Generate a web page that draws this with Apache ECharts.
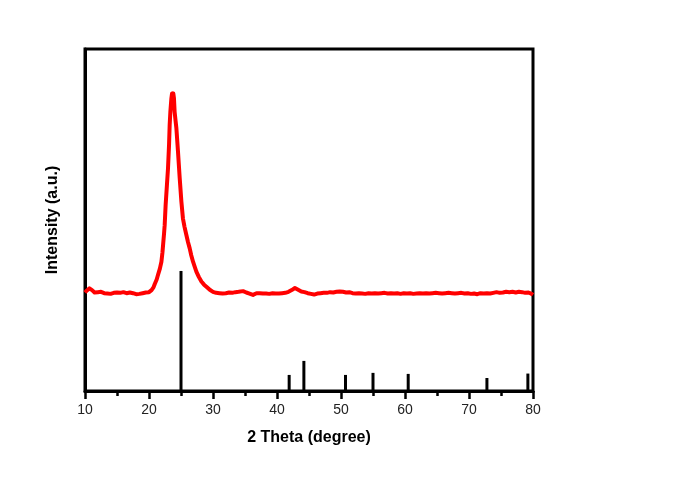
<!DOCTYPE html>
<html>
<head>
<meta charset="utf-8">
<script src="https://cdn.jsdelivr.net/npm/echarts@6/dist/echarts.min.js"></script>
<style>html,body{margin:0;padding:0;background:#fff;}#c{width:685px;height:492px;}</style>
</head>
<body>
<div id="c"></div>
<script>
var xTicks = [10, 20, 30, 40, 50, 60, 70, 80];
var theta = [10.0,10.3,10.7,11.1,11.5,12.0,12.5,13.0,13.5,14.0,14.5,15.0,15.5,16.0,16.5,17.0,17.5,18.0,18.5,19.0,19.5,20.0,20.4,20.7,20.9,21.2,21.4,21.7,21.94,22.1,22.2,22.35,22.45,22.6,22.8,22.97,23.13,23.23,23.34,23.5,23.6,23.7,23.8,23.9,24.0,24.15,24.28,24.53,24.8,25.06,25.3,25.55,25.84,26.1,26.36,26.6,26.88,27.15,27.4,27.8,28.19,28.6,28.97,29.5,30.0,30.5,31.0,31.5,32.0,32.5,33.0,33.5,34.0,34.7,35.2,35.7,36.25,36.8,37.3,37.8,38.3,38.8,39.3,39.8,40.3,40.8,41.3,41.8,42.3,42.8,43.3,43.8,44.3,44.8,45.3,45.8,46.3,46.8,47.3,47.8,48.3,48.8,49.3,49.8,50.3,50.8,51.3,51.8,52.3,52.8,53.3,53.8,54.3,54.8,55.3,55.8,56.3,56.8,57.3,57.8,58.3,58.8,59.3,59.8,60.3,60.8,61.3,61.8,62.3,62.8,63.3,63.8,64.3,64.8,65.3,65.8,66.3,66.8,67.3,67.8,68.3,68.8,69.3,69.8,70.3,70.8,71.3,71.8,72.3,72.8,73.3,73.8,74.3,74.8,75.3,75.8,76.3,76.8,77.3,77.8,78.3,78.8,79.3,79.7,80.0];
var intensity = [28.8,29.4,30.0,29.5,28.8,28.9,29.0,28.6,28.5,28.4,28.7,28.8,28.7,28.9,28.6,28.8,28.6,28.3,28.4,28.6,28.8,28.9,29.5,30.3,31.3,32.6,33.9,35.8,37.8,40.5,42.7,46.0,48.5,54.4,60.2,65.1,71.9,77.8,81.7,85.6,87.0,86.0,87.0,85.6,81.7,79.0,76.8,70.0,62.2,55.4,50.5,48.0,45.6,43.5,41.7,39.7,37.8,36.3,34.9,33.3,32.0,31.1,30.5,29.6,29.0,28.7,28.6,28.5,28.6,28.8,28.7,28.9,29.0,29.2,28.8,28.5,28.1,28.6,28.6,28.5,28.5,28.4,28.6,28.5,28.5,28.6,28.7,29.0,29.5,30.1,29.6,29.1,28.9,28.6,28.4,28.2,28.5,28.6,28.7,28.7,28.9,28.8,29.0,29.1,29.0,28.8,28.9,28.6,28.5,28.6,28.5,28.4,28.6,28.5,28.6,28.5,28.6,28.7,28.5,28.6,28.5,28.6,28.4,28.6,28.5,28.6,28.4,28.5,28.6,28.5,28.6,28.5,28.6,28.7,28.6,28.5,28.6,28.7,28.6,28.5,28.6,28.7,28.5,28.6,28.4,28.5,28.3,28.6,28.5,28.6,28.5,28.7,28.9,28.7,28.8,29.0,28.9,29.0,28.8,29.0,28.9,28.7,28.8,28.5,28.1];
var refTheta = [25.0, 41.9, 44.2, 50.7, 55.0, 60.5, 72.8, 79.2];
var refIntensity = [35.1, 4.7, 8.8, 4.7, 5.3, 5.0, 3.8, 5.1];

var curve = theta.map(function (t, i) { return [t, intensity[i]]; });
var sticks = refTheta.map(function (t, i) { return [t, refIntensity[i]]; });

var chart = echarts.init(document.getElementById('c'), null, {renderer: 'canvas'});
chart.setOption({
  animation: false,
  backgroundColor: '#fff',
  grid: {left: 85, right: 152, top: 49, bottom: 101, show: true, borderColor: '#000', borderWidth: 3, containLabel: false},
  xAxis: {
    type: 'value', min: xTicks[0], max: xTicks[xTicks.length - 1], interval: 10,
    name: '2 Theta (degree)', nameLocation: 'middle', nameGap: 39,
    nameTextStyle: {fontFamily: 'Liberation Sans, Arial, sans-serif', fontWeight: 'bold', fontSize: 16, color: '#000'},
    axisLine: {show: true, lineStyle: {color: '#000', width: 3}},
    axisTick: {show: true, inside: false, length: 8, lineStyle: {color: '#000', width: 2.5}},
    minorTick: {show: true, splitNumber: 2, length: 5, lineStyle: {color: '#000', width: 2.5}},
    axisLabel: {fontFamily: 'Liberation Sans, Arial, sans-serif', fontSize: 14, color: '#222', margin: 12},
    splitLine: {show: false}
  },
  yAxis: {
    type: 'value', min: 0, max: 100,
    name: 'Intensity (a.u.)', nameLocation: 'middle', nameGap: 24,
    nameTextStyle: {fontFamily: 'Liberation Sans, Arial, sans-serif', fontWeight: 'bold', fontSize: 16, color: '#000'},
    axisLine: {show: true, lineStyle: {color: '#000', width: 3}},
    axisTick: {show: false}, axisLabel: {show: false}, splitLine: {show: false}
  },
  series: [
    {type: 'bar', data: sticks, barWidth: 3, itemStyle: {color: '#000'}, silent: true},
    {type: 'line', data: curve, showSymbol: false, smooth: false, lineStyle: {color: '#ff0000', width: 4, join: 'round'}, z: 3}
  ]
});
</script>
</body>
</html>
